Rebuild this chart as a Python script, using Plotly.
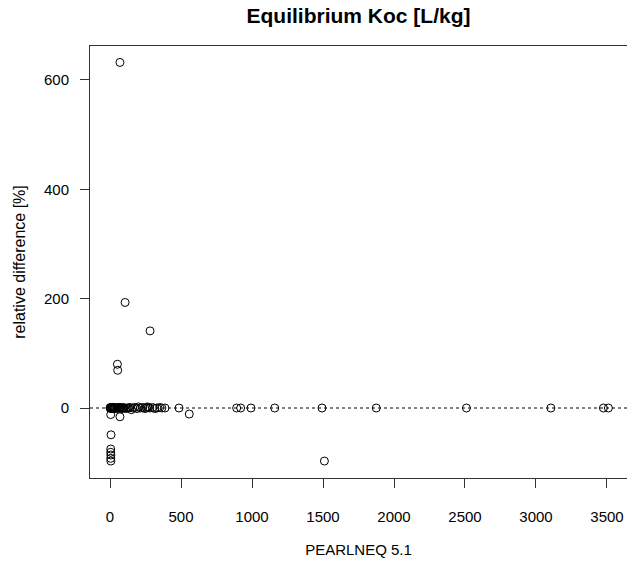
import plotly.graph_objects as go

# PEARLNEQ 5.1 values (x) and relative difference [%] (y)
pearlneq = [
    70, 106, 282, 52, 54, 5, 70, 558, 7, 5, 5, 6, 5, 6, 1510,
    0, 2, 4, 6, 8, 10, 12, 15, 18, 20, 24, 28, 30, 35, 40, 45, 50, 55, 60, 65,
    70, 75, 80, 85, 90, 95, 100, 110, 120, 130, 140, 150,
    160, 175, 190, 200, 215, 230, 245, 255, 262, 270, 280, 300, 315, 330, 350, 365,
    387, 486, 892, 920, 993, 1160, 1493, 1875, 2510, 3105, 3475, 3510,
]
rel_diff = [
    632, 193, 141, 80, 69, -12, -16, -11, -49, -75, -81, -86, -92, -97, -97,
    0, 1, -1, 0, 1, 0, -1, 0, 1, 0, -1, 0, 1, 0, 0, -1, 0, 1, 0, 0,
    1, 0, -1, 0, 0, 1, 0, -1, 0, 0, 1, -3,
    0, 1, -1, 2, 0, 1, -1, 0, 2, 1, 0, 1, -1, 0, 1, 0,
    0, 0, 0, 0, 0, 0, 0, 0, 0, 0, 0, 0,
]

x_ticks = [0, 500, 1000, 1500, 2000, 2500, 3000, 3500]
y_ticks = [0, 200, 400, 600]

font_family = "Liberation Sans, Arial, sans-serif"
axis_col = "#333333"

fig = go.Figure()
fig.add_trace(go.Scatter(
    x=pearlneq, y=rel_diff, mode="markers",
    marker=dict(symbol="circle-open", size=8, color="black",
                line=dict(width=1, color="black")),
    showlegend=False, hoverinfo="x+y",
))

fig.add_shape(type="line", xref="paper", x0=0, x1=1, yref="y", y0=0, y1=0,
              line=dict(color="black", width=1, dash="dot"), layer="below")

fig.update_layout(
    width=627, height=563,
    margin=dict(l=90, r=0, t=46, b=85),
    paper_bgcolor="white", plot_bgcolor="white",
    font=dict(family=font_family, size=15, color="black"),
    title=dict(text="<b>Equilibrium Koc [L/kg]</b>", x=0.5, xref="paper",
               xanchor="center", y=1 - 16 / 563, yanchor="middle",
               font=dict(size=21, family=font_family, color="black")),
    xaxis=dict(
        range=[-141, 3641], tickvals=x_ticks, ticktext=[str(v) for v in x_ticks],
        showgrid=False, zeroline=False, showline=True, mirror=True,
        linecolor=axis_col, linewidth=1,
        ticks="outside", ticklen=9, tickcolor=axis_col, tickwidth=1,
        ticklabelstandoff=16,
        tickfont=dict(size=15),
        title=dict(text="PEARLNEQ 5.1", standoff=20, font=dict(size=15)),
    ),
    yaxis=dict(
        range=[-128, 662], tickvals=y_ticks, ticktext=[str(v) for v in y_ticks],
        showgrid=False, zeroline=False, showline=True, mirror=False,
        linecolor=axis_col, linewidth=1,
        ticks="outside", ticklen=9, tickcolor=axis_col, tickwidth=1,
        ticklabelstandoff=8,
        tickfont=dict(size=15),
        title=dict(text="relative difference [%]", standoff=14, font=dict(size=16)),
    ),
)

fig.write_html("out.html")
